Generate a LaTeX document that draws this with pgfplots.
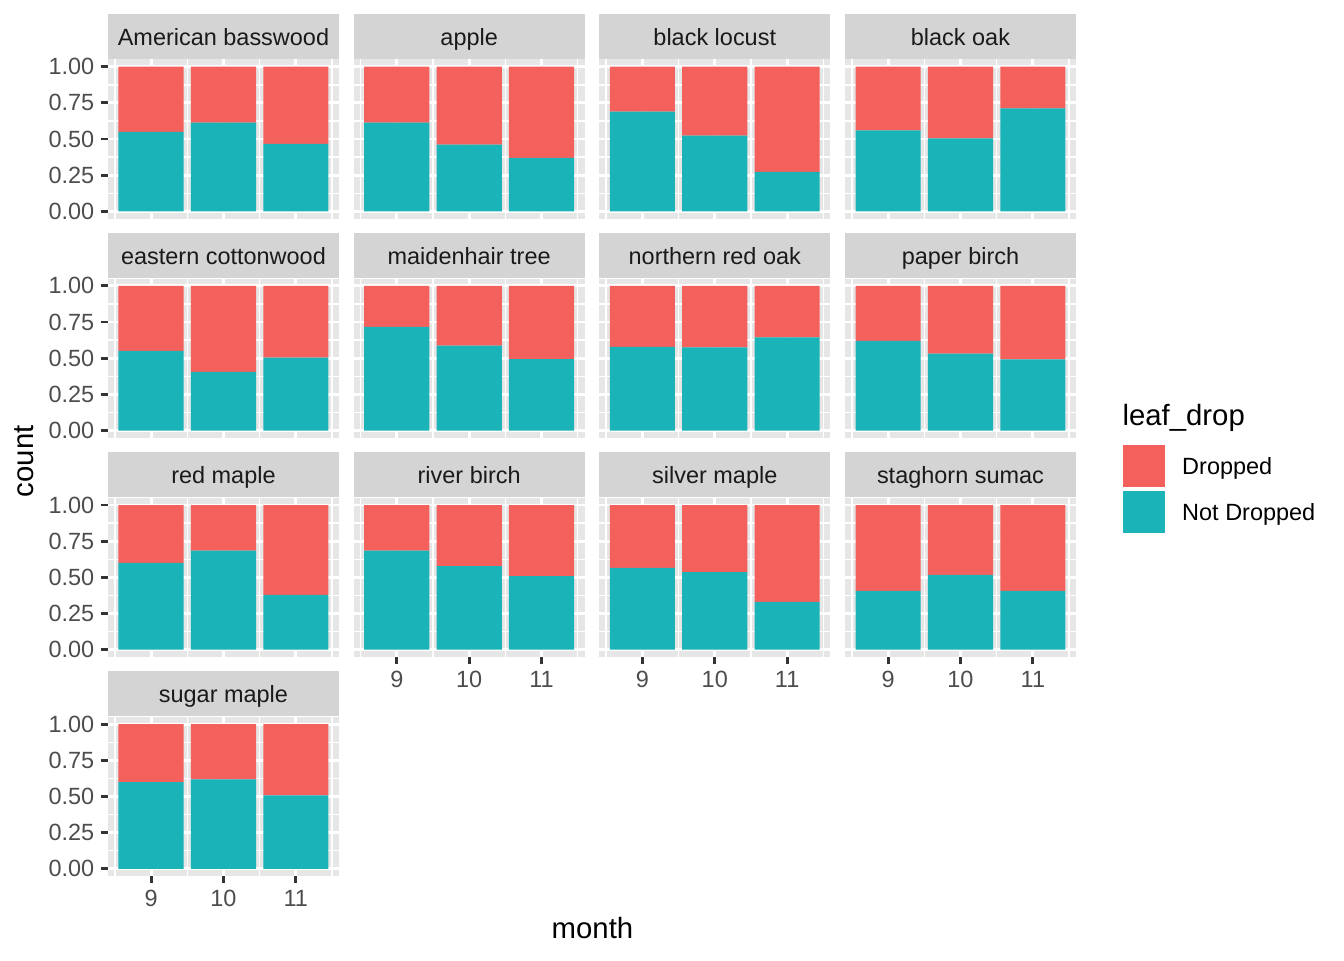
\documentclass[border=0pt]{standalone}
\usepackage{pgfplots}
\pgfplotsset{compat=1.18}
\usepackage{fontspec}
\setmainfont{Liberation Sans}
\definecolor{dropc}{HTML}{F4605C}
\definecolor{notc}{HTML}{1AB3B8}
\definecolor{panelbg}{HTML}{E6E6E6}
\definecolor{stripbg}{HTML}{D4D4D4}
\definecolor{greyten}{HTML}{1A1A1A}
\definecolor{greytwenty}{HTML}{333333}
\definecolor{greythirty}{HTML}{4D4D4D}
\tikzset{
 strip/.style={fill=stripbg, anchor=south, minimum width=86.6pt, minimum height=17pt, inner sep=0pt,
   text height=8.4pt, text depth=1.85pt, font=\fontsize{8.8}{10}\selectfont, text=greyten},
}
\pgfplotsset{
 facet/.style={
  scale only axis, width=86.6pt, height=59.68pt,
  xmin=8.405, xmax=11.595, ymin=-0.05, ymax=1.05,
  axis background/.style={fill=panelbg},
  axis line style={draw=none},
  ybar stacked, bar width=0.9,
  xtick={9,10,11}, ytick={0,0.25,0.5,0.75,1},
  minor xtick={8.5,9.5,10.5,11.5}, minor ytick={0.125,0.375,0.625,0.875},
  grid=both,
  major grid style={white, line width=1.07pt},
  minor grid style={white, line width=0.53pt},
  tick align=outside, tick pos=left,
  major tick length=2.75pt, minor tick length=0pt,
  major tick style={greytwenty, line width=1.07pt},
  xticklabels={}, yticklabels={},
  xmajorticks=false, ymajorticks=false,
  clip=false,
  tick label style={font=\fontsize{8.8}{10}\selectfont, text=greythirty},
  xticklabel style={inner sep=0pt, yshift=-2.2pt, text height=6.3pt, text depth=0pt, anchor=north},
  yticklabel style={inner sep=0pt, xshift=-2.2pt, anchor=east},
  anchor=north west,
 },
 withy/.style={ymajorticks=true, yticklabels={0.00,0.25,0.50,0.75,1.00}},
 withx/.style={xmajorticks=true, xticklabels={9,10,11}},
 nd/.style={fill=notc,draw=none},
 dr/.style={fill=dropc,draw=none},
}
\begin{document}
\begin{tikzpicture}
\path (0pt,0pt) rectangle (504pt,360pt);
% row 1
\begin{axis}[facet,withy,at={(40.5pt,337.69pt)}]
\addplot[nd] coordinates {(9,0.550) (10,0.614) (11,0.467)};
\addplot[dr] coordinates {(9,0.450) (10,0.386) (11,0.533)};
\node[strip] at (rel axis cs:0.5,1) {American basswood};
\end{axis}
\begin{axis}[facet,at={(132.64pt,337.69pt)}]
\addplot[nd] coordinates {(9,0.614) (10,0.462) (11,0.370)};
\addplot[dr] coordinates {(9,0.386) (10,0.538) (11,0.630)};
\node[strip] at (rel axis cs:0.5,1) {apple};
\end{axis}
\begin{axis}[facet,at={(224.74pt,337.69pt)}]
\addplot[nd] coordinates {(9,0.689) (10,0.523) (11,0.274)};
\addplot[dr] coordinates {(9,0.311) (10,0.477) (11,0.726)};
\node[strip] at (rel axis cs:0.5,1) {black locust};
\end{axis}
\begin{axis}[facet,at={(316.88pt,337.69pt)}]
\addplot[nd] coordinates {(9,0.560) (10,0.505) (11,0.712)};
\addplot[dr] coordinates {(9,0.440) (10,0.495) (11,0.288)};
\node[strip] at (rel axis cs:0.5,1) {black oak};
\end{axis}
% row 2
\begin{axis}[facet,withy,at={(40.5pt,255.53pt)}]
\addplot[nd] coordinates {(9,0.550) (10,0.406) (11,0.503)};
\addplot[dr] coordinates {(9,0.450) (10,0.594) (11,0.497)};
\node[strip] at (rel axis cs:0.5,1) {eastern cottonwood};
\end{axis}
\begin{axis}[facet,at={(132.64pt,255.53pt)}]
\addplot[nd] coordinates {(9,0.716) (10,0.587) (11,0.494)};
\addplot[dr] coordinates {(9,0.284) (10,0.413) (11,0.506)};
\node[strip] at (rel axis cs:0.5,1) {maidenhair tree};
\end{axis}
\begin{axis}[facet,at={(224.74pt,255.53pt)}]
\addplot[nd] coordinates {(9,0.578) (10,0.574) (11,0.643)};
\addplot[dr] coordinates {(9,0.422) (10,0.426) (11,0.357)};
\node[strip] at (rel axis cs:0.5,1) {northern red oak};
\end{axis}
\begin{axis}[facet,at={(316.88pt,255.53pt)}]
\addplot[nd] coordinates {(9,0.620) (10,0.532) (11,0.491)};
\addplot[dr] coordinates {(9,0.380) (10,0.468) (11,0.509)};
\node[strip] at (rel axis cs:0.5,1) {paper birch};
\end{axis}
% row 3
\begin{axis}[facet,withy,at={(40.5pt,173.33pt)}]
\addplot[nd] coordinates {(9,0.600) (10,0.684) (11,0.379)};
\addplot[dr] coordinates {(9,0.400) (10,0.316) (11,0.621)};
\node[strip] at (rel axis cs:0.5,1) {red maple};
\end{axis}
\begin{axis}[facet,withx,at={(132.64pt,173.33pt)}]
\addplot[nd] coordinates {(9,0.684) (10,0.577) (11,0.508)};
\addplot[dr] coordinates {(9,0.316) (10,0.423) (11,0.492)};
\node[strip] at (rel axis cs:0.5,1) {river birch};
\end{axis}
\begin{axis}[facet,withx,at={(224.74pt,173.33pt)}]
\addplot[nd] coordinates {(9,0.565) (10,0.537) (11,0.330)};
\addplot[dr] coordinates {(9,0.435) (10,0.463) (11,0.670)};
\node[strip] at (rel axis cs:0.5,1) {silver maple};
\end{axis}
\begin{axis}[facet,withx,at={(316.88pt,173.33pt)}]
\addplot[nd] coordinates {(9,0.406) (10,0.517) (11,0.406)};
\addplot[dr] coordinates {(9,0.594) (10,0.483) (11,0.594)};
\node[strip] at (rel axis cs:0.5,1) {staghorn sumac};
\end{axis}
% row 4
\begin{axis}[facet,withy,withx,at={(40.5pt,91.16pt)}]
\addplot[nd] coordinates {(9,0.600) (10,0.618) (11,0.508)};
\addplot[dr] coordinates {(9,0.400) (10,0.382) (11,0.492)};
\node[strip] at (rel axis cs:0.5,1) {sugar maple};
\end{axis}
% axis titles
\node[rotate=90, inner sep=0pt, font=\fontsize{11}{13}\selectfont] at (9.19pt,187pt) {count};
\node[anchor=base, inner sep=0pt, font=\fontsize{11}{13}\selectfont] at (222.19pt,7.88pt) {month};
% legend
\node[anchor=base west, inner sep=0pt, font=\fontsize{11}{13}\selectfont] at (420.75pt,200.3pt) {leaf\_drop};
\fill[dropc] (421.01pt,177.49pt) rectangle (436.88pt,193.13pt);
\fill[notc] (421.01pt,160.24pt) rectangle (436.88pt,175.88pt);
\node[anchor=base west, inner sep=0pt, font=\fontsize{8.8}{10}\selectfont] at (443.14pt,181.88pt) {Dropped};
\node[anchor=base west, inner sep=0pt, font=\fontsize{8.8}{10}\selectfont] at (443.14pt,164.74pt) {Not Dropped};
\end{tikzpicture}
\end{document}
